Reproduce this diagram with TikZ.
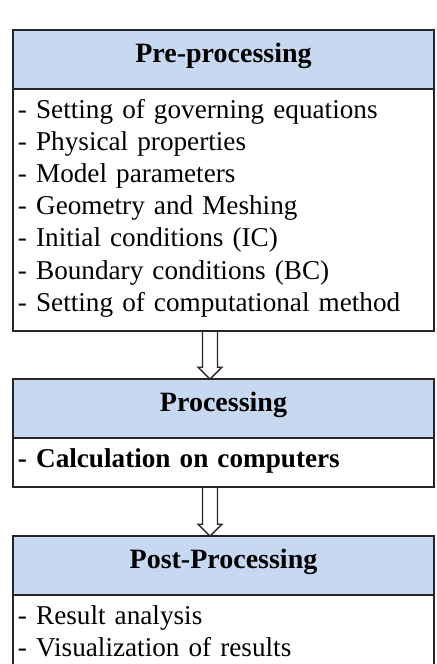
\documentclass[tikz,border=0pt]{standalone}
\usepackage{fontspec}
\setmainfont{Liberation Serif}
\usepackage{xcolor}
\usepackage{tikz}
\usetikzlibrary{positioning,calc}
\definecolor{headblue}{HTML}{C6D9F1}
\definecolor{frame}{HTML}{262626}
\newcommand{\upgap}{\rule{0pt}{14.5pt}}
\newcommand{\downgap}{\rule[-10pt]{0pt}{10pt}}

\begin{document}
\begin{tikzpicture}[
    font=\fontsize{13.6pt}{16.1pt}\selectfont,
    head/.style={draw=frame,line width=1pt,fill=headblue,minimum width=210.5pt,inner sep=0pt,outer sep=0pt,text height=16pt,text depth=13.5pt,font=\fontsize{14pt}{16pt}\selectfont\bfseries},
    body/.style={draw=frame,line width=1pt,fill=white,text width=205.5pt,inner xsep=2.5pt,inner ysep=0pt,outer sep=0pt,align=left},
    hollow/.style={draw=frame,line width=0.7pt,line join=miter}
  ]
    \path[use as bounding box] (0,0) rectangle (218pt,-332pt);
    \clip (0,0) rectangle (218pt,-332pt);
    \node[head,anchor=north west] (prehead) at (6.5pt,-15pt) {Pre-processing};
    \node[body,below=0pt of prehead] (prebody) {\upgap- Setting of governing equations\\
      - Physical properties\\
      - Model parameters\\
      - Geometry and Meshing\\
      - Initial conditions (IC)\\
      - Boundary conditions (BC)\\
      - Setting of computational method\downgap};
    \node[head,below=24pt of prebody] (prochead) {Processing};
    \node[body,below=0pt of prochead] (procbody) {\upgap\textbf{- Calculation on computers}\downgap};
    \node[head,below=24.5pt of procbody] (posthead) {Post-Processing};
    \node[body,below=0pt of posthead] (postbody) {\upgap- Result analysis\\
      - Visualization of results\downgap};
    % hollow block arrows between the stages
    \foreach \from/\to in {prebody/prochead,procbody/posthead}{
      \coordinate (s) at ([xshift=-6.75pt]\from.south);
      \coordinate (t) at (s |- \to.north);
      \draw[hollow] ([xshift=-3.75pt]s) -- ([xshift=-3.75pt,yshift=6pt]t) -- ([xshift=-6pt,yshift=6pt]t) -- (t)
        -- ([xshift=6pt,yshift=6pt]t) -- ([xshift=3.75pt,yshift=6pt]t) -- ([xshift=3.75pt]s);
    }
  \end{tikzpicture}
\end{document}
